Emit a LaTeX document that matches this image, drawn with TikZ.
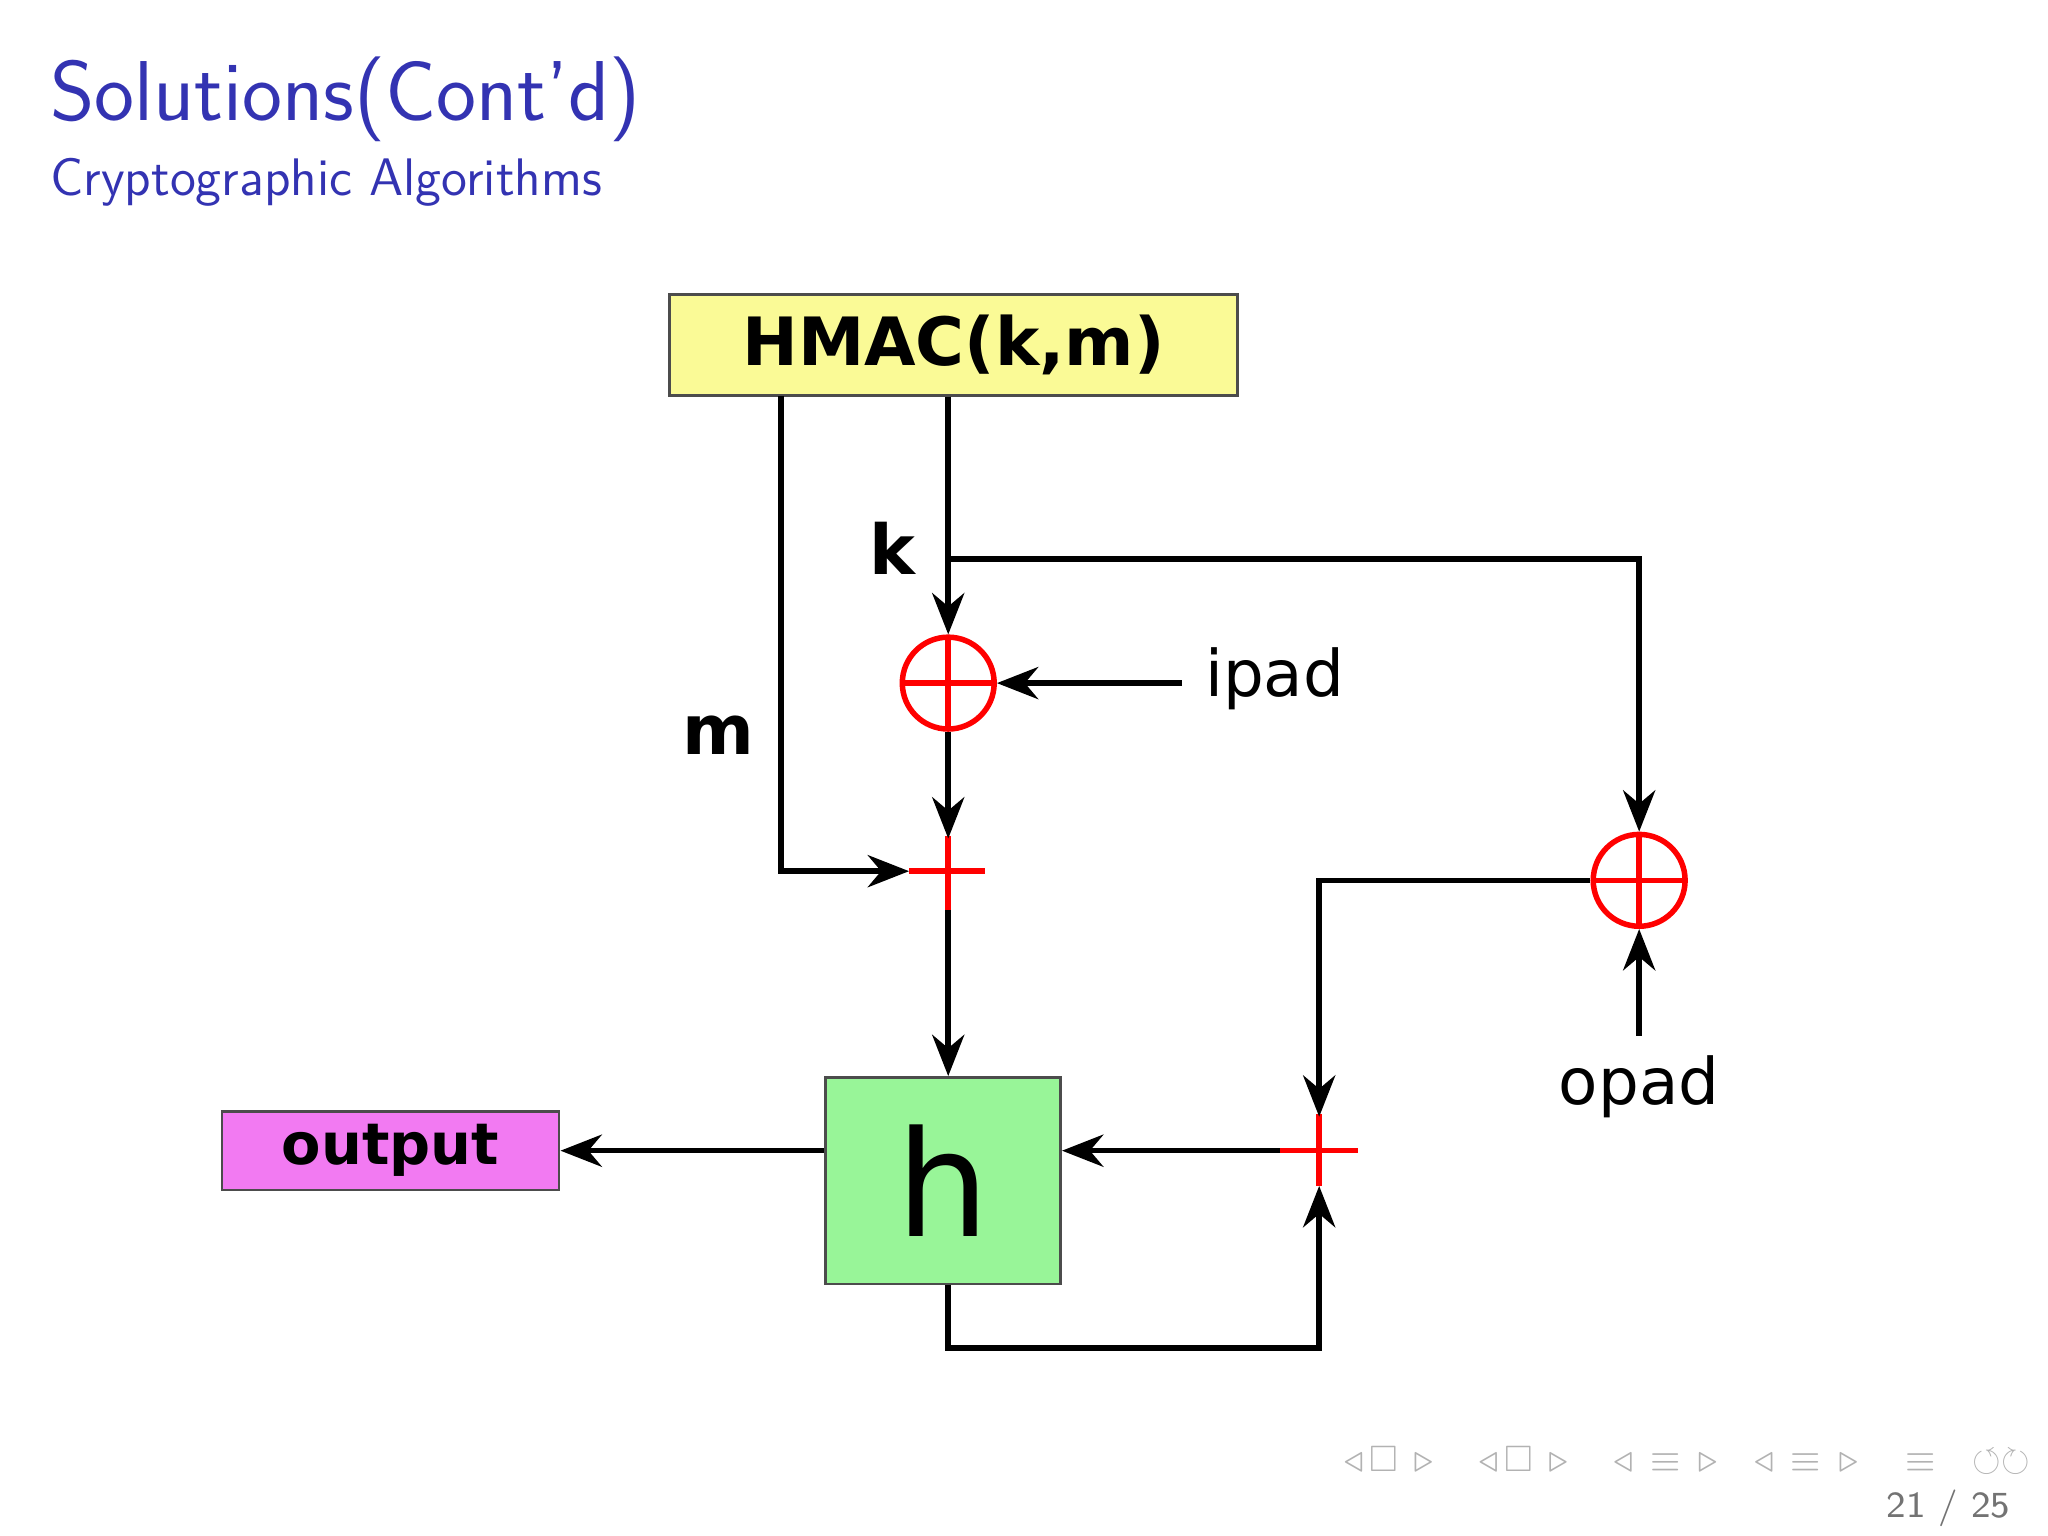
\documentclass[tikz,border=0pt]{standalone}
\usepackage{amssymb}
\usepackage{fontspec}
\newfontfamily\dejavu{DejaVu Sans}
\usetikzlibrary{arrows.meta, positioning}
\definecolor{titleblue}{RGB}{51,51,178}
\definecolor{hmacyellow}{RGB}{250,250,150}
\definecolor{hgreen}{RGB}{152,245,152}
\definecolor{outmagenta}{RGB}{242,122,242}
\tikzset{
  wire/.style = {line width=1.2pt, line join=miter},
  arr/.style = {wire, -{Stealth[length=9pt, width=7pt]}},
  block/.style = {draw=black!70, line width=0.6pt, inner sep=0pt},
  xorop/.style = {circle, draw=red, line width=1.2pt, minimum size=20pt, inner sep=0pt,
    path picture={\draw[red, line width=1.2pt]
      (path picture bounding box.north) -- (path picture bounding box.south)
      (path picture bounding box.west) -- (path picture bounding box.east);}},
  redcross/.style = {red, line width=1.2pt}
}
\begin{document}
\begin{tikzpicture}[x=0.01cm, y=-0.01cm]
  \useasboundingbox (0,0) rectangle (1568,1176);
  % title
  \node[anchor=base west, inner sep=0pt, text=titleblue, font=\sffamily\fontsize{18.5}{22}\selectfont] (title) at (38,92) {Solutions(Cont'd)};
  \node[anchor=base west, inner sep=0pt, text=titleblue, font=\sffamily\fontsize{11.5}{13}\selectfont] (subtitle) at (38,150) {Cryptographic Algorithms};
  % blocks
  \node[block, fill=hmacyellow, font=\dejavu\bfseries\fontsize{14.5}{18}\selectfont,
    minimum width=4.35cm, minimum height=0.77cm] (hmac) at (730,264) {HMAC(k,m)};
  \node[block, fill=hgreen, minimum width=1.8cm, minimum height=1.58cm, font=\dejavu\fontsize{32}{36}\selectfont] (h) at (722,904) {h};
  \node[block, fill=outmagenta, minimum width=2.58cm, minimum height=0.6cm, font=\dejavu\bfseries\fontsize{12.5}{15}\selectfont] (out) at (299,881) {output};
  \node[xorop] (xin) at (726,523) {};
  \node[xorop] (xout) at (1255,674) {};
  % crosses
  \coordinate (pin) at (726,667);
  \coordinate (pout) at (1010,881);
  \draw[redcross] (696,667) -- (754,667) (726,640) -- (726,697);
  \draw[redcross] (980,881) -- (1040,881) (1010,853) -- (1010,908);
  % labels
  \node[font=\dejavu\bfseries\fontsize{15}{18}\selectfont] (klab) at (683,420) {k};
  \node[font=\dejavu\bfseries\fontsize{15}{18}\selectfont] (mlab) at (550,563) {m};
  \node[anchor=west, inner sep=0pt, font=\dejavu\fontsize{14}{17}\selectfont] (ipad) at (922,520) {ipad};
  \node[font=\dejavu\fontsize{14}{17}\selectfont] (opad) at (1255,832) {opad};
  \coordinate (ksplit) at (726,428);
  \coordinate (opadtop) at (1255,793);
  % connectors
  \draw[arr] (598,303) |- (696,667);
  \draw[arr] (hmac.south -| xin) -- (xin);
  \draw[arr] (ksplit) -| (xout);
  \draw[arr] (905,523) -- (xin);
  \draw[arr] (xin) -- (726,642);
  \draw[arr] (726,697) -- (pin |- h.north);
  \draw[arr] (h.west |- out) -- (out);
  \draw[arr] (980,881) -- (h.east |- pout);
  \draw[arr] (xout) -| (1010,855);
  \draw[arr] (pin |- h.south) |- (1010,1032) -- (1010,908);
  \draw[arr] (opadtop) -- (xout);
  % footer
  \node[anchor=base east, inner sep=0pt, text=black!55, font=\sffamily\fontsize{8}{10}\selectfont] (page) at (1540,1162) {21 / 25};
  \node[anchor=east, inner sep=0pt, text=black!30, font=\sffamily\fontsize{8}{10}\selectfont] (nav) at (1555,1118) {$\triangleleft\,\square\,\triangleright\quad\triangleleft\,\square\,\triangleright\quad\triangleleft\,\equiv\,\triangleright\quad\triangleleft\,\equiv\,\triangleright\quad\equiv\quad\circlearrowleft\circlearrowright$};
\end{tikzpicture}
\end{document}
